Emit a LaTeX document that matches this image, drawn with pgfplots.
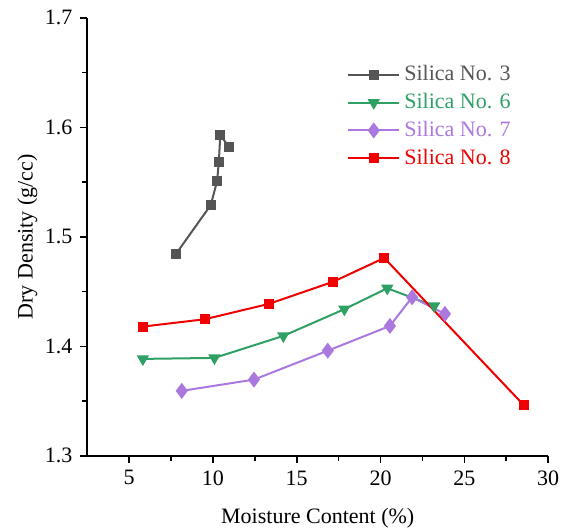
\documentclass[border=0pt]{standalone}
\usepackage{fontspec}
\setmainfont{Liberation Serif}
\usepackage{pgfplots}
\pgfplotsset{compat=1.18}
\definecolor{cGray}{RGB}{85,85,85}
\definecolor{cGreen}{RGB}{46,160,100}
\definecolor{cPurple}{RGB}{170,120,222}
\definecolor{cRed}{RGB}{240,0,0}

\begin{document}
\fontsize{11}{13}\selectfont
\begin{tikzpicture}
% page frame as in the reference: room left, right, above and below the axis
\useasboundingbox (-43.6pt,-38pt) rectangle (240.4pt,227.9pt);
\begin{axis}[
    scale only axis,
    at={(0pt,0pt)}, anchor=south west,
    width=230.5pt, height=219pt,
    xmin=2.5, xmax=30, ymin=1.3, ymax=1.7,
    axis x line*=bottom, axis y line*=left,
    axis line style={line width=0.8pt},
    xtick={5,10,...,30}, ytick={1.3,1.4,...,1.7},
    minor x tick num=1, minor y tick num=1,
    tick align=outside,
    major tick length=3.5pt, minor tick length=2.5pt,
    every tick/.style={line width=0.8pt, black},
    yticklabel style={/pgf/number format/fixed,/pgf/number format/precision=1,/pgf/number format/fixed zerofill},
    /pgf/number format/assume math mode=true,
    ticklabel style={font=\fontsize{11}{13}\selectfont},
    label style={font=\fontsize{11}{13}\selectfont},
    xlabel={Moisture Content (\%)},
    ylabel={Dry Density (g/cc)},
    xlabel style={at={(axis description cs:0.5,-0.1416)}, anchor=center},
    ylabel style={at={(axis description cs:-0.130,0.5)}, anchor=center},
    legend style={at={(0.55,0.91)}, anchor=north west, draw=none, fill=none,
        font=\fontsize{11}{13}\selectfont, row sep=0.6pt},
    legend cell align=left,
    legend image code/.code={\draw[mark repeat=2,mark phase=2] plot coordinates {(0cm,0cm)(0.45cm,0cm)(0.9cm,0cm)};},
]
\addplot[cGray, line width=1pt, mark=square*, mark size=2pt] coordinates {
  (7.78,1.484)(9.87,1.529)(10.25,1.551)(10.35,1.568)(10.44,1.593)(10.96,1.582)};
\addlegendentry{\textcolor{cGray}{Silica No. 3}}
\addplot[cGreen, line width=1pt, mark=triangle*, mark size=2.6pt, mark options={rotate=180}] coordinates {
  (5.82,1.3885)(10.09,1.3894)(14.2,1.4095)(17.84,1.4339)(20.4,1.453)(23.2,1.4369)};
\addlegendentry{\textcolor{cGreen}{Silica No. 6}}
\addplot[cPurple, line width=1pt, mark=diamond*, mark size=3.2pt] coordinates {
  (8.14,1.3593)(12.45,1.3696)(16.85,1.396)(20.56,1.4186)(21.88,1.4448)(23.84,1.4296)};
\addlegendentry{\textcolor{cPurple}{Silica No. 7}}
\addplot[cRed, line width=1pt, mark=square*, mark size=2pt] coordinates {
  (5.82,1.418)(9.51,1.4247)(13.33,1.4387)(17.18,1.459)(20.22,1.4807)(28.54,1.3463)};
\addlegendentry{\textcolor{cRed}{Silica No. 8}}
\end{axis}
\end{tikzpicture}
\end{document}
